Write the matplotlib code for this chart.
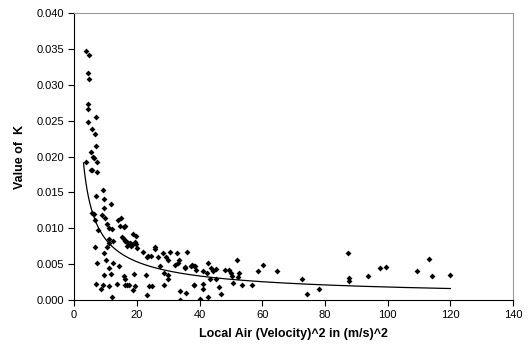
import numpy as np
import matplotlib
matplotlib.use('Agg')
import matplotlib.pyplot as plt

# measured points: (velocity^2, K)
vel_sq = [3.9, 4.7, 4.4, 4.9, 4.6, 4.5, 4.5, 6.9, 5.6, 6.8, 7.0, 5.5, 6.0, 6.2, 3.9, 7.2,
          5.7, 5.4, 7.2, 9.3, 7.1, 9.7, 11.9, 9.6, 5.8, 6.3, 8.9, 10.0, 6.6, 13.9, 14.9, 10.4,
          11.2, 12.0, 7.7, 14.8, 15.9, 16.3, 18.9, 19.8, 15.2, 15.8, 16.4, 16.9, 17.3, 17.8,
          18.2, 18.6, 19.3, 19.9, 17.0, 18.0, 20.2, 11.3, 12.5, 10.4, 6.8, 11.0, 9.7, 7.4,
          10.2, 12.3, 11.3, 14.3, 9.5, 11.7, 15.8, 7.0, 9.1, 8.5, 11.1, 13.6, 16.8, 12.1,
          22.1, 23.2, 23.7, 24.6, 25.8, 26.7, 28.2, 29.3, 30.6, 29.9, 32.2, 33.1, 35.4, 37.3,
          27.3, 28.8, 30.1, 19.1, 22.9, 28.8, 29.9, 16.3, 16.3, 17.5, 19.5, 18.9, 23.9, 24.8,
          23.2, 33.8, 35.7, 33.8, 38.4, 38.4, 38.6, 38.9, 41.2, 42.5, 42.8, 43.6, 44.2, 45.3,
          48.2, 49.5, 50.0, 50.3, 52.1, 52.7, 52.4, 58.5, 60.4, 38.3, 41.2, 41.2, 43.4, 45.3,
          46.3, 46.8, 50.6, 53.5, 56.7, 40.0, 42.8, 64.8, 72.6, 74.2, 78.2, 87.5, 87.7, 87.7,
          93.8, 97.4, 99.4, 109.3, 113.1, 114.2, 120.0, 25.8, 32.7, 35.9, 33.6, 37.5, 35.4]
k_val = [0.0348, 0.0342, 0.0317, 0.0309, 0.0273, 0.0266, 0.0249, 0.0255, 0.0238, 0.0232, 0.0215,
         0.0206, 0.0200, 0.0198, 0.0193, 0.0192, 0.0182, 0.0181, 0.0179, 0.0153, 0.0145, 0.0141,
         0.0134, 0.0128, 0.0122, 0.0120, 0.0119, 0.0114, 0.0112, 0.0112, 0.0114, 0.0106, 0.0100,
         0.0099, 0.0097, 0.0103, 0.0102, 0.0103, 0.0092, 0.0089, 0.0088, 0.0085, 0.0083, 0.0081,
         0.0079, 0.0080, 0.0078, 0.0077, 0.0081, 0.0078, 0.0076, 0.0075, 0.0073, 0.0085, 0.0082,
         0.0074, 0.0074, 0.0079, 0.0065, 0.0051, 0.0056, 0.0052, 0.0044, 0.0047, 0.0035, 0.0036,
         0.0034, 0.0022, 0.0021, 0.0016, 0.0019, 0.0023, 0.0021, 0.0004, 0.0067, 0.0060, 0.0061,
         0.0061, 0.0071, 0.0060, 0.0065, 0.0060, 0.0067, 0.0056, 0.0049, 0.0051, 0.0046, 0.0047,
         0.0047, 0.0038, 0.0035, 0.0036, 0.0035, 0.0021, 0.0030, 0.0030, 0.0021, 0.0021, 0.0019,
         0.0014, 0.0020, 0.0019, 0.0007, 0.0012, 0.0010, 0.0000, 0.0021, 0.0047, 0.0047, 0.0042,
         0.0041, 0.0038, 0.0052, 0.0044, 0.0041, 0.0043, 0.0042, 0.0042, 0.0037, 0.0033, 0.0056,
         0.0038, 0.0032, 0.0041, 0.0049, 0.0021, 0.0023, 0.0016, 0.0029, 0.0029, 0.0018, 0.0008,
         0.0024, 0.0021, 0.0021, 0.0002, 0.0004, 0.0041, 0.0029, 0.0009, 0.0015, 0.0065, 0.0031,
         0.0027, 0.0034, 0.0045, 0.0046, 0.0041, 0.0057, 0.0034, 0.0035, 0.0074, 0.0066, 0.0067,
         0.0056, 0.0049, 0.0045]

# power trendline K = a * v^b
fit_a = 0.0400
fit_b = -0.672
fit_range = [3.0, 120.0]

plt.rcParams['font.family'] = ['Liberation Sans', 'DejaVu Sans']

fig = plt.figure(figsize=(5.29, 3.54), dpi=100)
ax = fig.add_axes([0.140, 0.1525, 0.830, 0.810])

ax.scatter(vel_sq, k_val, marker='D', s=9, color='black', linewidths=0, zorder=3)

xf = np.linspace(fit_range[0], fit_range[1], 300)
ax.plot(xf, fit_a * xf ** fit_b, color='black', lw=0.9, zorder=2)

ax.set_xlim(0, 140)
ax.set_ylim(0, 0.040)
ax.set_xticks(np.arange(0, 141, 20))
ax.set_yticks(np.arange(0, 0.0401, 0.005))
ax.yaxis.set_major_formatter(matplotlib.ticker.FormatStrFormatter('%.3f'))
ax.tick_params(direction='out', length=4, width=0.8, labelsize=8, pad=3)

ax.spines['top'].set_color('#999999')
ax.spines['right'].set_color('#999999')
for s in ['left', 'bottom']:
    ax.spines[s].set_color('black')

ax.set_xlabel('Local Air (Velocity)^2 in (m/s)^2', fontsize=9, fontweight='bold', labelpad=6)
ax.set_ylabel('Value of  K', fontsize=9, fontweight='bold', labelpad=8)

fig.savefig('out.png', dpi=100)
